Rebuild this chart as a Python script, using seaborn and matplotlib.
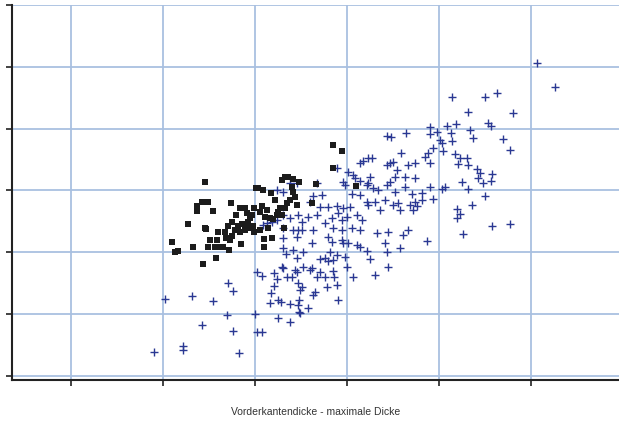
import numpy as np
import pandas as pd
import matplotlib
matplotlib.use("Agg")
import matplotlib.pyplot as plt
import seaborn as sns

# group 1 (black squares)
sq_x = [2.10, 2.13, 2.16, 2.27, 2.33, 2.37, 2.37, 2.42, 2.46, 2.43, 2.46, 2.47, 2.49, 2.49, 2.51,
        2.54, 2.57, 2.58, 2.59, 2.62, 2.65, 2.67, 2.71, 2.72, 2.73, 2.74, 2.75, 2.78, 2.82, 2.84,
        2.84, 2.85, 2.86, 2.89, 2.89, 2.91, 2.92, 2.92, 2.95, 2.97, 2.98, 2.99, 2.99, 3.01, 3.03,
        3.05, 3.08, 3.09, 3.10, 3.10, 3.11, 3.13, 3.16, 3.17, 3.18, 3.20, 3.24, 3.25, 3.27, 3.29,
        3.29, 3.32, 3.33, 3.33, 3.35, 3.36, 3.40, 3.41, 3.41, 3.43, 3.46, 3.48, 3.62, 3.66, 3.85,
        3.85, 3.95, 4.10, 3.38, 3.22, 3.14, 3.05, 2.79, 2.68, 2.60, 2.75]
sq_y = [2.17, 2.01, 2.02, 2.46, 2.09, 2.75, 2.67, 2.82, 3.14, 1.81, 2.39, 2.38, 2.82, 2.09, 2.20,
        2.67, 2.09, 1.91, 2.20, 2.09, 2.09, 2.33, 2.43, 2.04, 2.20, 2.80, 2.49, 2.36, 2.43, 2.72,
        2.33, 2.14, 2.46, 2.72, 2.36, 2.64, 2.49, 2.39, 2.56, 2.61, 2.43, 2.72, 2.33, 3.04, 3.04,
        2.65, 2.75, 3.01, 2.22, 2.09, 2.57, 2.69, 2.56, 2.96, 2.23, 2.54, 2.61, 2.65, 2.72, 3.17,
        2.61, 2.39, 3.22, 2.72, 2.80, 3.22, 3.06, 3.19, 2.98, 2.90, 2.77, 3.14, 2.80, 3.11, 3.74,
        3.37, 3.64, 3.07, 2.85, 2.85, 2.39, 2.36, 2.61, 2.23, 2.33, 2.27]

# group 2 (blue crosses)
cr_x = [1.90, 2.02, 2.22, 2.22, 2.32, 2.42, 2.54, 2.71, 2.76, 2.70, 2.76, 2.83, 3.00, 3.02, 3.08,
        3.25, 3.38, 3.49,
        3.02, 3.08, 3.21, 3.24, 3.21, 3.17, 3.16, 3.25, 3.28, 3.29, 3.30, 3.40, 3.46, 3.47, 3.49,
        3.48, 3.47, 3.48, 3.51, 3.38, 3.43, 3.35,
        3.58, 3.62, 3.65, 3.63, 3.71, 3.67, 3.76, 3.78, 3.85, 3.86, 3.89, 3.90, 3.52, 3.60,
        4.00, 4.07, 4.30, 4.25, 4.22, 4.14, 4.45, 4.43, 4.58, 4.41, 4.11,
        3.30, 3.41, 3.52, 3.34, 3.46, 3.71, 3.76, 3.79, 3.85, 3.89, 3.82, 3.98,
        3.13, 3.18, 3.24, 3.09, 3.30, 3.38, 3.51, 3.58, 3.67, 3.30, 3.47, 3.41, 3.47, 3.51, 3.63,
        3.46, 3.62, 3.30,
        3.76, 3.84, 3.85, 3.95, 4.05, 4.14, 4.33, 4.45, 4.66, 4.61, 3.79, 3.84, 3.95, 3.96, 4.01,
        4.11, 4.16, 3.95, 4.00, 4.22, 4.23, 4.30, 4.41, 4.50, 4.55, 4.36, 4.58, 4.68, 4.72, 3.79,
        3.89, 3.96, 4.03, 3.90, 3.71, 3.60, 3.63, 3.73,
        3.24, 3.30, 3.38, 3.46, 3.67, 3.89, 4.01, 4.07, 4.09, 4.14, 4.25, 4.22, 3.96, 3.98, 4.05,
        4.14, 4.23, 4.28, 4.34, 4.14, 4.17, 4.23, 4.27, 4.47, 4.50, 4.43, 4.66, 4.74, 4.54, 4.52,
        4.63, 4.47, 4.43, 4.52, 4.63, 4.71, 4.74,
        4.43, 4.48, 4.64, 4.59,
        5.14, 5.50, 5.63, 5.32, 5.80, 4.90, 5.09, 5.18, 5.34, 5.53, 5.57, 5.13, 4.90, 4.98, 5.01,
        5.03, 5.14, 5.37, 5.70, 5.77, 4.93, 5.04, 4.88, 4.85, 4.90, 5.17, 5.23, 5.30, 5.21, 5.32,
        5.41, 5.45, 5.58, 5.42, 5.48, 5.57, 5.25, 5.32, 5.07, 5.03, 4.90, 4.93, 4.82, 4.82, 4.76,
        5.20, 5.23, 5.20, 5.36, 5.50, 5.58, 5.77, 5.26, 4.87, 4.74, 6.07, 6.26]
cr_y = [0.39, 1.25, 0.49, 0.42, 1.29, 0.83, 1.21, 1.50, 1.38, 0.99, 0.73, 0.37, 1.00, 0.71, 0.71,
        0.94, 0.87, 1.02,
        1.68, 1.62, 1.67, 1.57, 1.46, 1.34, 1.18, 1.23, 1.20, 1.76, 1.75, 1.60, 1.68, 1.50, 1.39,
        1.23, 1.15, 1.04, 1.44, 1.17, 1.72, 1.60,
        1.10, 1.75, 1.36, 1.31, 1.68, 1.60, 1.60, 1.44, 1.70, 1.60, 1.47, 1.23, 1.76, 1.72,
        1.76, 1.60, 1.63, 1.89, 2.02, 2.09, 1.76, 2.01, 2.07, 2.15, 2.12,
        2.07, 2.04, 2.01, 1.97, 1.91, 1.89, 1.91, 1.86, 1.88, 1.96, 2.01, 1.93,
        2.48, 2.49, 2.52, 2.44, 2.23, 2.56, 2.49, 2.57, 2.61, 2.61, 2.61, 2.36, 2.36, 2.36, 2.36,
        2.25, 2.15, 2.39,
        2.48, 2.56, 2.39, 2.36, 2.39, 2.36, 2.31, 2.33, 2.36, 2.28, 2.25, 2.17, 2.20, 2.15, 2.15,
        2.61, 2.52, 2.52, 2.57, 2.82, 2.77, 2.82, 2.85, 2.77, 2.80, 2.69, 2.69, 2.77, 2.69, 2.73,
        2.75, 2.72, 2.73, 2.64, 2.73, 2.82, 2.91, 2.93,
        3.01, 2.98, 3.12, 3.12, 3.12, 3.37, 3.30, 3.25, 3.20, 3.16, 3.22, 3.09, 3.14, 3.09, 2.94,
        2.93, 3.12, 3.04, 3.01, 3.45, 3.48, 3.53, 3.53, 3.45, 3.46, 3.41, 3.41, 3.45, 3.33, 3.22,
        3.22, 3.14, 3.09, 2.98, 3.06, 2.94, 2.82,
        3.88, 3.87, 3.93, 3.61,
        4.51, 4.51, 4.58, 4.27, 4.26, 4.03, 4.05, 4.08, 3.98, 4.09, 4.05, 3.93, 3.92, 3.95, 3.82,
        3.77, 3.80, 3.85, 3.83, 3.66, 3.69, 3.64, 3.61, 3.54, 3.45, 3.59, 3.53, 3.53, 3.43, 3.41,
        3.35, 3.28, 3.27, 3.20, 3.12, 3.16, 3.14, 3.03, 3.06, 3.03, 3.06, 2.86, 2.96, 2.85, 2.75,
        2.70, 2.62, 2.56, 2.77, 2.91, 2.43, 2.46, 2.30, 2.18, 3.20, 5.06, 4.68]

x_ticks = [1, 2, 3, 4, 5, 6]
y_ticks = [0, 1, 2, 3, 4, 5, 6]

df_sq = pd.DataFrame({"x": sq_x, "y": sq_y})
df_cr = pd.DataFrame({"x": cr_x, "y": cr_y})

sns.set_style("ticks")
plt.rcParams['font.family'] = ['Liberation Sans', 'DejaVu Sans']

fig = plt.figure(figsize=(6.19, 4.21), dpi=100)
ax = fig.add_axes([12 / 619, 41 / 421, 607 / 619, 375 / 421])

sns.scatterplot(data=df_cr, x="x", y="y", ax=ax, marker="+", color="#2a3893",
                s=40, linewidth=1.0, zorder=3)
sns.scatterplot(data=df_sq, x="x", y="y", ax=ax, marker="s", color="#1c1c1c",
                s=24, linewidth=0, zorder=4)

ax.set_xlim(0.359, 6.957)
ax.set_ylim(-0.065, 6.0)
ax.set_xticks(x_ticks)
ax.set_yticks(y_ticks)
ax.set_xticklabels([])
ax.set_yticklabels([])
ax.grid(True, color="#a9c0e0", linewidth=1.3)
ax.set_axisbelow(True)
ax.tick_params(direction="out", length=4, width=1.2, color="#222222")
for side in ["top", "right"]:
    ax.spines[side].set_visible(False)
for side in ["left", "bottom"]:
    ax.spines[side].set_color("#222222")
    ax.spines[side].set_linewidth(1.5)

ax.set_ylabel("")
ax.set_xlabel("Vorderkantendicke - maximale Dicke", fontsize=7.5, color="#333333", labelpad=12)

fig.savefig("out.png", dpi=100)
